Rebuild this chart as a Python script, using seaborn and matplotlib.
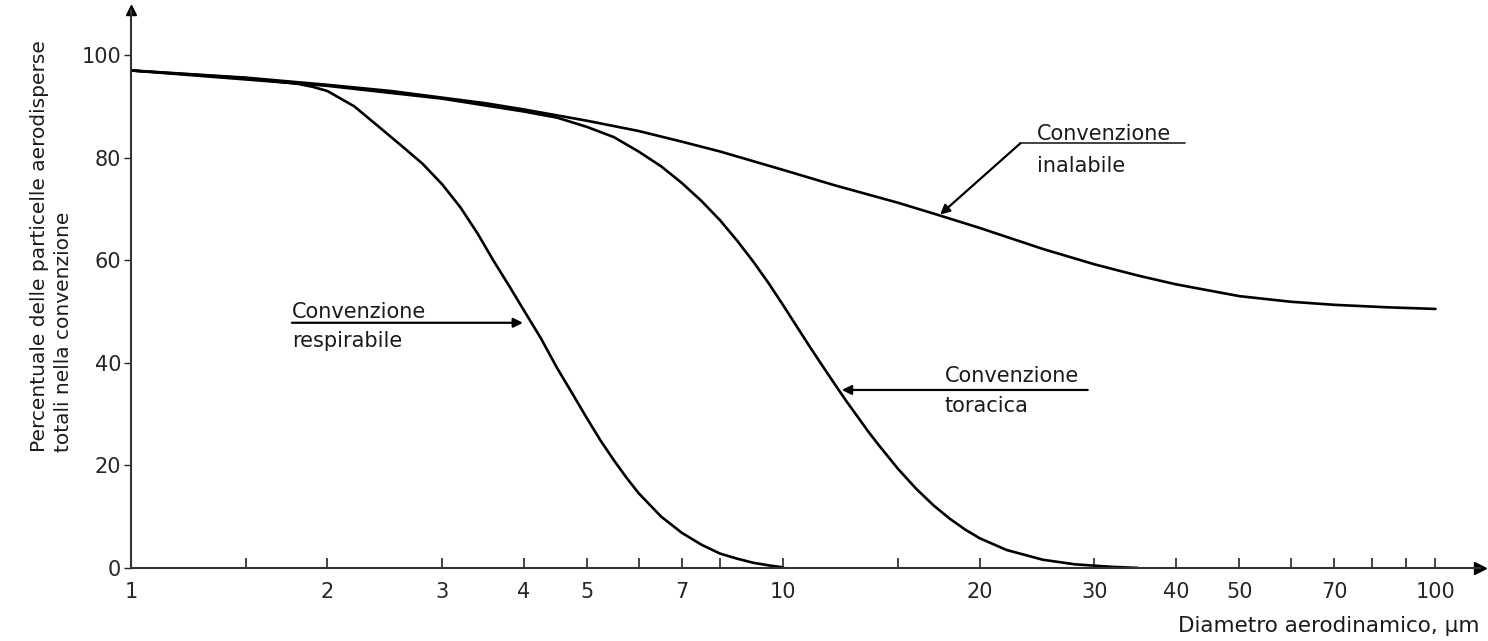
import matplotlib
matplotlib.use('Agg')
import matplotlib.pyplot as plt
from matplotlib.ticker import FixedLocator, FixedFormatter, NullFormatter
import pandas as pd
import seaborn as sns

# diametro aerodinamico (um) -> percentuale
inal_d = [1, 1.5, 2, 2.5, 3, 3.5, 4, 5, 6, 7, 8, 10, 12, 15, 17.4, 20, 25, 30, 35, 40, 50, 60, 70, 85, 100]
inal_p = [97, 95.6, 94.2, 93, 91.7, 90.6, 89.4, 87.2, 85.2, 83.1, 81.2, 77.6, 74.6, 71.2, 68.7, 66.3,
          62.2, 59.2, 57, 55.3, 53, 51.9, 51.3, 50.8, 50.5]

tor_d = [1, 2, 3, 4, 4.5, 5, 5.5, 6, 6.5, 7, 7.5, 8, 8.5, 9, 9.5, 10, 10.5, 11, 11.5, 12, 12.5,
         13, 13.5, 14, 15, 16, 17, 18, 19, 20, 22, 25, 28, 32, 35]
tor_p = [97, 94, 91.5, 89, 87.8, 86, 84, 81.2, 78.3, 75, 71.5, 67.8, 63.8, 59.7, 55.5, 51.2, 47,
         43, 39.3, 35.8, 32.5, 29.5, 26.6, 24, 19.3, 15.4, 12.2, 9.6, 7.5, 5.8, 3.5, 1.6, 0.7, 0.2, 0]

resp_d = [1, 1.5, 1.8, 1.9, 2, 2.2, 2.4, 2.6, 2.8, 3, 3.2, 3.4, 3.6, 3.8, 4, 4.25, 4.5, 4.75, 5,
          5.25, 5.5, 5.75, 6, 6.5, 7, 7.5, 8, 8.5, 9, 9.5, 10]
resp_p = [97, 95.5, 94.4, 93.8, 93, 90, 86, 82.3, 78.8, 74.8, 70.3, 65.2, 59.8, 55, 50.3, 44.8,
          39, 34, 29.2, 24.8, 21, 17.6, 14.6, 10, 6.8, 4.5, 2.8, 1.8, 1.0, 0.5, 0.1]

x_major = [1, 2, 3, 4, 5, 7, 10, 20, 30, 40, 50, 70, 100]
x_minor = [1.5, 6, 8, 15, 60, 80, 90]
y_ticks = [0, 20, 40, 60, 80, 100]

sns.set_style('ticks')
plt.rcParams['font.family'] = ['DejaVu Sans']

fig = plt.figure(figsize=(14.88, 6.41), dpi=100)
ax = fig.add_axes([0.088, 0.114, 0.9066, 0.8705])

for d, p in [(inal_d, inal_p), (tor_d, tor_p), (resp_d, resp_p)]:
    df = pd.DataFrame({'d': d, 'p': p})
    sns.lineplot(data=df, x='d', y='p', color='black', linewidth=1.9, ax=ax, sort=True)

ax.set_xscale('log')
ax.set_xlim(1, 117)
ax.set_ylim(0, 108.8)

ax.xaxis.set_major_locator(FixedLocator(x_major))
ax.xaxis.set_major_formatter(FixedFormatter([str(v) for v in x_major]))
ax.xaxis.set_minor_locator(FixedLocator(x_minor))
ax.xaxis.set_minor_formatter(NullFormatter())
ax.set_yticks(y_ticks)

ax.tick_params(axis='x', which='both', direction='in', length=7, width=1.2, labelsize=15, pad=10)
ax.tick_params(axis='y', direction='out', length=5, width=1, labelsize=15, pad=2)

sns.despine(ax=ax)
for s in ['left', 'bottom']:
    ax.spines[s].set_linewidth(1.5)
    ax.spines[s].set_color('#333333')

# frecce sugli assi
ax.plot(1, 0, '>', color='black', markersize=8, transform=ax.transAxes, clip_on=False)
ax.plot(0, 1, '^', color='black', markersize=7, transform=ax.transAxes, clip_on=False)

ax.set_xlabel('')
ax.set_ylabel('')

fs = 15
tc = '#1a1a1a'
arrow = dict(arrowstyle='-|>', color='black', lw=1.6, mutation_scale=14, shrinkA=0, shrinkB=0)

# inalabile
ax.text(24.5, 83.4, 'Convenzione', fontsize=fs, color=tc, va='baseline')
ax.text(24.5, 77.2, 'inalabile', fontsize=fs, color=tc, va='baseline')
ax.plot([23.1, 41.3], [82.8, 82.8], color='#333333', lw=1.3)
ax.annotate('', xy=(17.4, 68.9), xytext=(23.1, 82.8), arrowprops=arrow)

# respirabile
ax.text(1.765, 48.7, 'Convenzione', fontsize=fs, color=tc, va='baseline')
ax.text(1.765, 43.0, 'respirabile', fontsize=fs, color=tc, va='baseline')
ax.annotate('', xy=(3.99, 47.8), xytext=(1.765, 47.8), arrowprops=arrow)

# toracica
ax.text(17.7, 36.3, 'Convenzione', fontsize=fs, color=tc, va='baseline')
ax.text(17.7, 30.4, 'toracica', fontsize=fs, color=tc, va='baseline')
ax.annotate('', xy=(12.3, 34.7), xytext=(29.3, 34.7), arrowprops=arrow)

fig.text(0.02, 1 - 452 / 641, 'Percentuale delle particelle aerodisperse\ntotali nella convenzione',
         rotation=90, fontsize=14.5, va='bottom', ha='left', multialignment='left',
         linespacing=1.35, color=tc)
fig.text(1480 / 1488, 1 - 636 / 641, 'Diametro aerodinamico, μm', fontsize=15.5,
         ha='right', va='bottom', color=tc)

fig.savefig('out.png', dpi=100)
